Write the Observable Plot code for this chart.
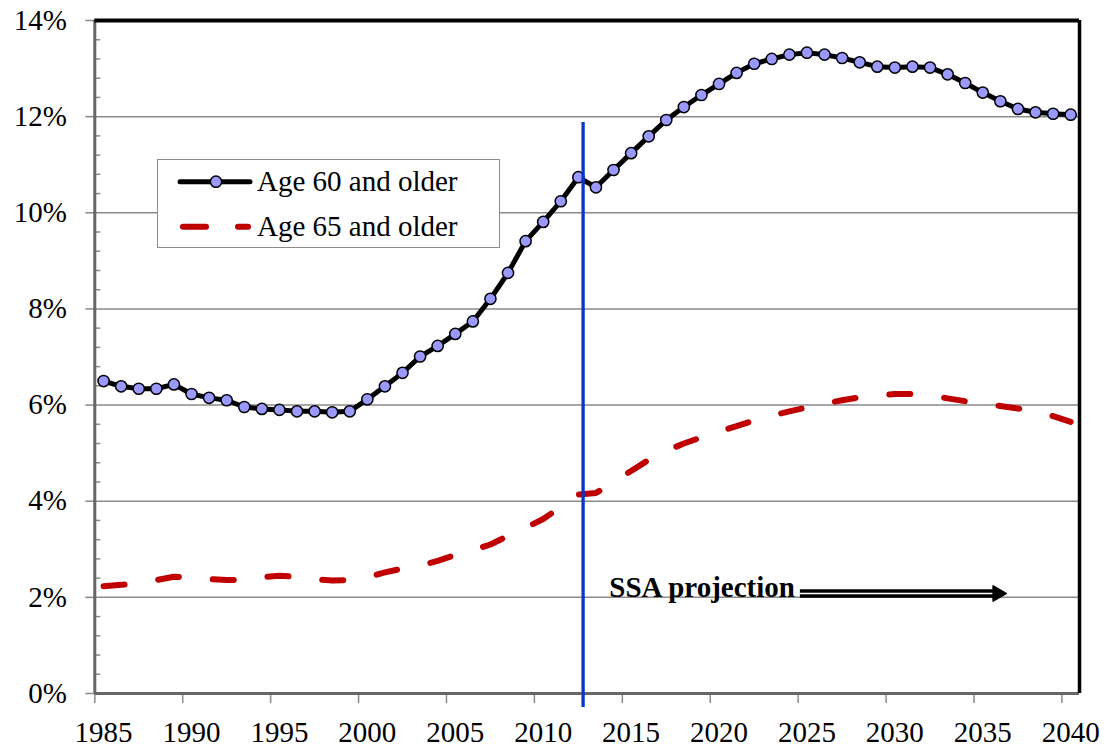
<!DOCTYPE html>
<html>
<head>
<meta charset="utf-8">
<script src="https://cdn.jsdelivr.net/npm/d3@7"></script>
<script src="https://cdn.jsdelivr.net/npm/@observablehq/plot@0.6"></script>
<style>
  body { margin: 0; background: #fff; }
  #wrap { position: relative; width: 1109px; height: 750px; overflow: hidden; }
  #legend { position: absolute; left: 157px; top: 159px; width: 341px; height: 87px;
            border: 1px solid #8c8c8c; background: #fff;
            font-family: "Liberation Serif", "Times New Roman", serif; font-size: 29px; color: #000; }
  #legend svg { position: absolute; left: 0; top: 0; }
  #legend .lab { position: absolute; left: 99px; line-height: 29px; white-space: nowrap; }
</style>
</head>
<body>
<div id="wrap"></div>
<script>
// ---- Data ----
const years = [1985,1986,1987,1988,1989,1990,1991,1992,1993,1994,1995,1996,1997,1998,1999,
  2000,2001,2002,2003,2004,2005,2006,2007,2008,2009,2010,2011,2012,2013,2014,2015,2016,2017,
  2018,2019,2020,2021,2022,2023,2024,2025,2026,2027,2028,2029,2030,2031,2032,2033,2034,2035,
  2036,2037,2038,2039,2040];

const age60 = [6.50,6.39,6.34,6.34,6.43,6.23,6.15,6.10,5.96,5.92,5.90,5.87,5.87,5.85,5.87,
  6.12,6.39,6.67,7.01,7.23,7.48,7.74,8.21,8.75,9.41,9.81,10.24,10.74,10.53,10.89,11.24,11.59,11.93,
  12.20,12.45,12.68,12.91,13.10,13.20,13.29,13.33,13.29,13.22,13.13,13.04,13.02,13.04,13.02,12.88,12.70,12.50,
  12.32,12.16,12.09,12.06,12.04];

const age65 = [2.23,2.26,2.30,2.36,2.43,2.41,2.38,2.36,2.36,2.42,2.45,2.43,2.38,2.35,2.36,
  2.42,2.52,2.60,2.66,2.76,2.88,2.98,3.10,3.28,3.45,3.63,3.88,4.14,4.17,4.40,4.63,4.86,5.05,
  5.20,5.33,5.45,5.56,5.68,5.78,5.87,5.95,6.03,6.10,6.16,6.20,6.23,6.23,6.20,6.14,6.08,6.03,
  5.98,5.93,5.86,5.77,5.65];

const seriesNames = ["Age 60 and older", "Age 65 and older"];
const yTicks = [0, 2, 4, 6, 8, 10, 12, 14];
const gridTicks = [2, 4, 6, 8, 10, 12];
const xTickYears = [1985, 1990, 1995, 2000, 2005, 2010, 2015, 2020, 2025, 2030, 2035, 2040];
const projectionLine = [{x: 2012.77, top: 11.88, bottom: -0.29}];
const annotationText = [{x: 2014.26, y: 2.0, label: "SSA projection"}];
const arrowShaft = [{x1: 2025.1, x2: 2036.1, y: 2.08}];
const arrowHead = [{x: 2036.34, y: 2.08}];

// ---- Build ----
const rows = years.map((yr, i) => ({x: yr + 0.5, a60: age60[i], a65: age65[i]}));
const minorTicks = d3.range(0.4, 14, 0.4).filter(v => Math.abs(v / 2 - Math.round(v / 2)) > 1e-6);

const W = 1109, H = 750, ML = 94.3, MR = 30, MT = 20, MB = 57;
const innerW = W - ML - MR;
const gray = "#8a8a8a";
const serif = "Liberation Serif, Times New Roman, serif";

const chart = Plot.plot({
  width: W, height: H,
  marginLeft: ML, marginRight: MR, marginTop: MT, marginBottom: MB,
  x: {domain: [1985, 2041], axis: null},
  y: {domain: [0, 14], axis: null},
  style: {fontFamily: serif, fontSize: "29px", color: "#000", background: "#fff", overflow: "visible"},
  marks: [
    Plot.gridY(gridTicks, {stroke: gray, strokeOpacity: 1, strokeWidth: 1.5}),
    Plot.tickY(minorTicks, {y: d => d, stroke: gray, strokeWidth: 1.5, insetRight: innerW - 6}),
    // outward y ticks
    Plot.tickY(yTicks, {y: d => d, stroke: gray, strokeWidth: 1.5, insetLeft: -9, insetRight: innerW}),
    // y labels
    Plot.text(yTicks, {y: d => d, text: d => d + "%", frameAnchor: "left", dx: -28, textAnchor: "end",
      lineAnchor: "middle", fontSize: 29, fontFamily: serif, fill: "#000"}),
    // x ticks at category boundaries
    Plot.tickX(xTickYears, {x: d => d, stroke: gray, strokeWidth: 1.5, insetTop: H - MT - MB, insetBottom: -10}),
    // x labels at category centres
    Plot.text(xTickYears, {x: d => d + 0.5, text: d => String(d), frameAnchor: "bottom", dy: 28, lineAnchor: "top",
      fontSize: 29, fontFamily: serif, fill: "#000"}),
    Plot.line(rows, {x: "x", y: "a65", stroke: "#c00000", strokeWidth: 6, strokeDasharray: "21,34",
      strokeLinecap: "round", strokeLinejoin: "round"}),
    Plot.line(rows, {x: "x", y: "a60", stroke: "#000", strokeWidth: 5, strokeLinejoin: "round"}),
    Plot.dot(rows, {x: "x", y: "a60", r: 5.6, fill: "#9999ff", stroke: "#000", strokeWidth: 1.5}),
    Plot.ruleX([1985], {stroke: "#666", strokeWidth: 3}),
    Plot.ruleY([0], {stroke: "#666", strokeWidth: 3}),
    Plot.ruleY([14], {stroke: "#000", strokeWidth: 4}),
    Plot.ruleX([2041], {stroke: "#000", strokeWidth: 3.5}),
    Plot.ruleX(projectionLine, {x: "x", y1: "top", y2: "bottom", stroke: "#0a36c8", strokeWidth: 3.3}),
    Plot.text(annotationText, {x: "x", y: "y", text: "label", textAnchor: "start", lineAnchor: "bottom",
      fontWeight: "bold", fontSize: 29, fontFamily: serif, fill: "#000"}),
    Plot.link(arrowShaft, {x1: "x1", x2: "x2", y1: "y", y2: "y", stroke: "#000", strokeWidth: 8.5}),
    Plot.link(arrowShaft, {x1: "x1", x2: "x2", y1: "y", y2: "y", stroke: "#fff", strokeWidth: 1.5}),
    Plot.dot(arrowHead, {x: "x", y: "y", symbol: "triangle", rotate: 90, r: 6, fill: "#000", stroke: "#000", strokeWidth: 1})
  ]
});

const wrap = document.getElementById("wrap");
wrap.appendChild(chart);

// Legend (inside the plot area, as in the reference)
const legend = document.createElement("div");
legend.id = "legend";
legend.innerHTML = `
  <svg width="100" height="87">
    <line x1="22" y1="21.7" x2="92" y2="21.7" stroke="#000" stroke-width="5" stroke-linecap="round"></line>
    <circle cx="58" cy="21.7" r="5.6" fill="#9999ff" stroke="#000" stroke-width="1.5"></circle>
    <line x1="25" y1="66.7" x2="48" y2="66.7" stroke="#c00000" stroke-width="6" stroke-linecap="round"></line>
    <line x1="80" y1="66.7" x2="90" y2="66.7" stroke="#c00000" stroke-width="6" stroke-linecap="round"></line>
  </svg>
  <div class="lab" style="top:7px">${seriesNames[0]}</div>
  <div class="lab" style="top:52px">${seriesNames[1]}</div>`;
wrap.appendChild(legend);
</script>
</body>
</html>
